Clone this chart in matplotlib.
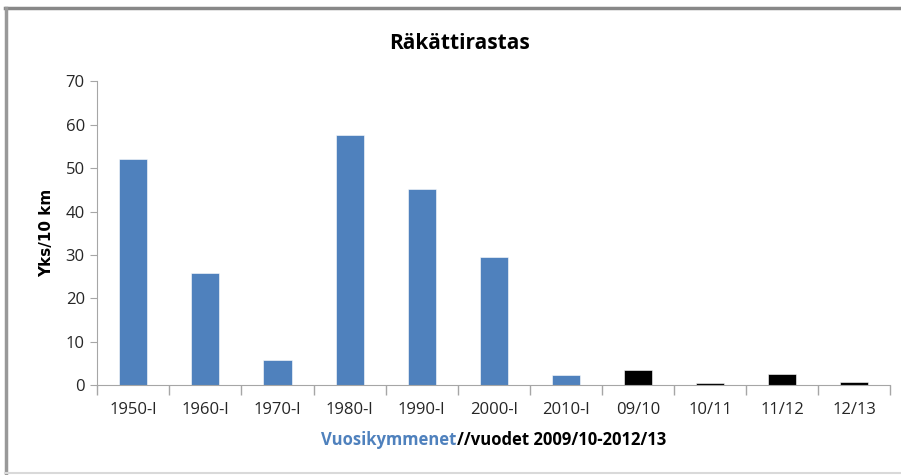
import matplotlib
matplotlib.use('Agg')
import matplotlib.pyplot as plt
from matplotlib.lines import Line2D
import numpy as np

categories = ['1950-l', '1960-l', '1970-l', '1980-l', '1990-l', '2000-l', '2010-l',
              '09/10', '10/11', '11/12', '12/13']
values = [52.0, 25.8, 5.8, 57.6, 45.1, 29.5, 2.3, 3.4, 0.6, 2.5, 0.8]
is_season = [False] * 7 + [True] * 4

blue = '#4F81BD'
plt.rcParams['font.family'] = ['Open Sans', 'DejaVu Sans']

fig = plt.figure(figsize=(9.01, 4.75), dpi=100)
ax = fig.add_axes([0.108, 0.189, 0.880, 0.640])

x = np.arange(len(categories))
colors = ['black' if s else blue for s in is_season]
ax.bar(x, values, width=0.39, color=colors, edgecolor='white', linewidth=0.4)

ax.set_xlim(-0.5, len(categories) - 0.5)
ax.set_ylim(0, 70)
ax.set_yticks(range(0, 71, 10))
ax.set_xticks(x)
ax.set_xticklabels(categories)
ax.set_xticks(np.arange(-0.5, len(categories)), minor=True)
ax.tick_params(axis='x', which='major', length=0, pad=12, labelsize=12, colors='#262626')
ax.tick_params(axis='x', which='minor', length=7, color='#a6a6a6', width=1)
ax.tick_params(axis='y', length=5, labelsize=12, pad=4, colors='#a6a6a6', labelcolor='#262626')

for s in ['top', 'right']:
    ax.spines[s].set_visible(False)
ax.spines['left'].set_color('#a6a6a6')
ax.spines['bottom'].set_color('#a6a6a6')

ax.set_ylabel('Yks/10 km', fontsize=11, fontweight='bold', family=['DejaVu Sans'], labelpad=8)
fig.text(0.510, 0.908, 'Räkättirastas', ha='center', va='center', fontsize=15, fontweight='bold')

# two-colour x label, centred under the axes
fig.canvas.draw()
r = fig.canvas.get_renderer()
t1 = fig.text(0, 0.063, 'Vuosikymmenet', color=blue, fontsize=12, fontweight='bold', va='baseline')
t2 = fig.text(0, 0.063, '//vuodet 2009/10-2012/13', color='black', fontsize=12, fontweight='bold', va='baseline')
w1 = t1.get_window_extent(r).width
w2 = t2.get_window_extent(r).width
W = fig.bbox.width
cx = (0.108 + 0.880 / 2) * W
start = cx - (w1 + w2) / 2
t1.set_x(start / W)
t2.set_x((start + w1) / W)

# chart frame
fig.add_artist(Line2D([0.006, 1.0], [0.983, 0.983], color='#888888', lw=2.5, transform=fig.transFigure))
fig.add_artist(Line2D([0.0065, 0.0065], [0.0, 0.983], color='#999999', lw=2.5, transform=fig.transFigure))
fig.add_artist(Line2D([0.006, 1.0], [0.004, 0.004], color='#d9d9d9', lw=1.5, transform=fig.transFigure))

fig.savefig('out.png', dpi=100)
